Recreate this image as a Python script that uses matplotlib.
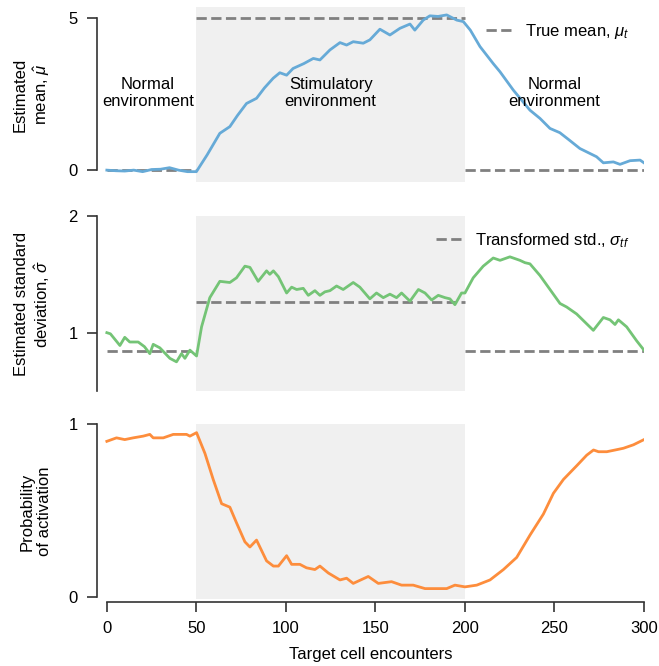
import matplotlib.pyplot as plt

plt.rcParams['font.family'] = ['Liberation Sans', 'DejaVu Sans']
plt.rcParams['mathtext.fontset'] = 'custom'
plt.rcParams['mathtext.it'] = 'Liberation Sans:italic'
plt.rcParams['mathtext.rm'] = 'Liberation Sans'
plt.rcParams['font.size'] = 12

# estimated mean (top panel)
mean_x = [0, 5, 10, 15, 20, 25, 30, 35, 40, 45, 50, 56, 63.1, 68.7, 73, 78, 83.6, 88,
          92.9, 96.6, 100.4, 104, 110, 115.3, 119, 124.6, 130.2, 133.9, 137.6, 143.2,
          146.9, 152.5, 158.1, 163.7, 169.3, 172, 176.7, 180.4, 185, 189.8, 195.4, 199.1,
          203, 208.4, 215.8, 219.6, 227, 236.3, 241.9, 247.5, 253, 258, 264.2, 273.5,
          277.3, 282.9, 286.6, 292.2, 297.8, 300]
mean_y = [0.0, -0.02, -0.03, 0.0, -0.05, 0.02, 0.03, 0.08, 0.0, -0.05, -0.05, 0.5, 1.21,
          1.43, 1.8, 2.19, 2.36, 2.7, 3.02, 3.2, 3.12, 3.34, 3.5, 3.67, 3.62, 3.95, 4.19,
          4.11, 4.22, 4.17, 4.28, 4.63, 4.44, 4.66, 4.8, 4.6, 4.93, 5.07, 5.05, 5.1, 4.93,
          4.88, 4.6, 4.06, 3.5, 3.23, 2.63, 1.97, 1.7, 1.37, 1.23, 1.0, 0.71, 0.44, 0.24,
          0.27, 0.19, 0.31, 0.33, 0.24]
true_mean = [0, 5, 0]

# estimated std (middle panel)
std_x = [0, 2, 7.3, 10, 12.8, 17.5, 21, 24, 25.9, 29.6, 35.2, 38.9, 41.7, 43.6, 46.4, 50.1,
         52.9, 57.5, 63.1, 68.7, 72.4, 77.1, 79.9, 84.5, 89.2, 91, 93, 95.8, 100.4, 103.2,
         106, 109.7, 112.5, 116.2, 119, 121.8, 124.6, 128.3, 132, 137.6, 141.3, 146.9,
         150.6, 154.4, 158.1, 161.8, 164.6, 169.3, 174, 177.7, 181.4, 185.1, 188.9, 191.6,
         194.4, 198.1, 200, 204.6, 210.2, 215.8, 219.6, 225.1, 230.7, 233.5, 236.3, 241.9,
         247.5, 253.1, 256.8, 262.4, 271.7, 277.3, 281, 283.8, 285.7, 290.3, 295.9, 300]
std_y = [1.0, 0.99, 0.89, 0.96, 0.92, 0.92, 0.88, 0.82, 0.9, 0.87, 0.78, 0.75, 0.82, 0.78,
         0.85, 0.8, 1.05, 1.3, 1.44, 1.43, 1.47, 1.57, 1.56, 1.44, 1.53, 1.5, 1.53, 1.48,
         1.34, 1.39, 1.37, 1.38, 1.32, 1.36, 1.32, 1.35, 1.36, 1.4, 1.37, 1.43, 1.39, 1.29,
         1.34, 1.3, 1.33, 1.3, 1.34, 1.27, 1.37, 1.34, 1.28, 1.32, 1.3, 1.29, 1.24, 1.34,
         1.34, 1.47, 1.57, 1.64, 1.62, 1.65, 1.62, 1.6, 1.59, 1.49, 1.37, 1.25, 1.22, 1.16,
         1.02, 1.13, 1.11, 1.07, 1.11, 1.05, 0.93, 0.85]
true_std = [0.84, 1.26, 0.84]

# probability of activation (bottom panel)
prob_x = [0, 5.4, 10, 14.7, 20.3, 24, 25.9, 31.5, 37.1, 44.5, 46.4, 50.1, 54.8, 59.4, 64.1,
          68.7, 72.4, 77.1, 79.9, 83.6, 89.2, 93, 95.8, 100.4, 103.2, 107.8, 111.5, 116.2,
          119, 123.7, 130.2, 133.9, 137.6, 146, 151.6, 159, 164.6, 171.1, 177.7, 186.1,
          189.8, 194.4, 200, 206.6, 214, 221.5, 228.9, 236.4, 243.8, 249.4, 255, 262.5,
          268, 271.8, 274.6, 279.2, 283.9, 288.5, 294.1, 300]
prob_y = [0.9, 0.92, 0.91, 0.92, 0.93, 0.94, 0.92, 0.92, 0.94, 0.94, 0.93, 0.95, 0.83,
          0.68, 0.54, 0.52, 0.43, 0.32, 0.29, 0.33, 0.21, 0.18, 0.18, 0.24, 0.19, 0.19,
          0.17, 0.16, 0.18, 0.14, 0.1, 0.11, 0.08, 0.12, 0.08, 0.09, 0.07, 0.07, 0.05,
          0.05, 0.05, 0.07, 0.06, 0.07, 0.1, 0.16, 0.23, 0.36, 0.48, 0.6, 0.68, 0.76, 0.82,
          0.85, 0.84, 0.84, 0.85, 0.86, 0.88, 0.91]

seg_edges = [0, 50, 200, 300]

blue = '#66aad7'
green = '#74c476'
orange = '#fd8d3c'
dash_gray = '#808080'
shade = '#f0f0f0'
spine_col = '#333333'

W, H = 659, 666
fig = plt.figure(figsize=(W / 100, H / 100), dpi=100)


def px_axes(top, bottom):
    left, right = 97, 644
    return fig.add_axes([left / W, 1 - bottom / H, (right - left) / W, (bottom - top) / H])


ax1 = px_axes(7, 182)
ax2 = px_axes(216, 391)
ax3 = px_axes(424, 599)

for ax in (ax1, ax2, ax3):
    ax.axvspan(50, 200, color=shade, lw=0, zorder=0)
    ax.set_xlim(-5.5, 300)
    for s in ('top', 'right'):
        ax.spines[s].set_visible(False)
    ax.spines['left'].set_color(spine_col)
    ax.spines['left'].set_linewidth(1.2)
    ax.tick_params(axis='y', length=7, width=1.2, color=spine_col, labelsize=12, pad=7)

# top panel
for i in range(3):
    ax1.plot(seg_edges[i:i + 2], [true_mean[i]] * 2, ls='--', color=dash_gray, lw=2,
             label='True mean, $\\mu_t$' if i == 0 else None, zorder=2)
ax1.plot(mean_x, mean_y, color=blue, lw=2, zorder=3)
ax1.set_ylim(-0.39, 5.36)
ax1.set_yticks([0, 5])
ax1.spines['left'].set_bounds(0, 5)
ax1.set_ylabel('Estimated\nmean, $\\hat{\\mu}$', labelpad=12)
ax1.text(23, 2.53, 'Normal\nenvironment', ha='center', va='center')
ax1.text(125, 2.53, 'Stimulatory\nenvironment', ha='center', va='center')
ax1.text(250, 2.53, 'Normal\nenvironment', ha='center', va='center')
ax1.legend(loc='upper right', frameon=False, handlelength=1.5)

# middle panel
for i in range(3):
    ax2.plot(seg_edges[i:i + 2], [true_std[i]] * 2, ls='--', color=dash_gray, lw=2,
             label='Transformed std., $\\sigma_{tf}$' if i == 0 else None, zorder=2)
ax2.plot(std_x, std_y, color=green, lw=2, zorder=3)
ax2.set_ylim(0.5, 2.0)
ax2.set_yticks([1, 2])
ax2.set_ylabel('Estimated standard\ndeviation, $\\hat{\\sigma}$', labelpad=12)
ax2.legend(loc='upper right', frameon=False, handlelength=1.5)

# bottom panel
ax3.plot(prob_x, prob_y, color=orange, lw=2, zorder=3)
ax3.set_ylim(-0.01, 1.0)
ax3.set_yticks([0, 1])
ax3.spines['left'].set_bounds(0, 1)
ax3.set_ylabel('Probability\nof activation', labelpad=12)
ax3.spines['bottom'].set_position(('outward', 2))
ax3.spines['bottom'].set_bounds(0, 300)
ax3.spines['bottom'].set_color(spine_col)
ax3.spines['bottom'].set_linewidth(1.2)
ax3.set_xticks([0, 50, 100, 150, 200, 250, 300])
ax3.tick_params(axis='x', length=7, width=1.2, color=spine_col, labelsize=12, pad=7)
ax3.set_xlabel('Target cell encounters', labelpad=8)

for ax in (ax1, ax2):
    ax.spines['bottom'].set_visible(False)
    ax.set_xticks([])

fig.savefig('out.png', dpi=100)
